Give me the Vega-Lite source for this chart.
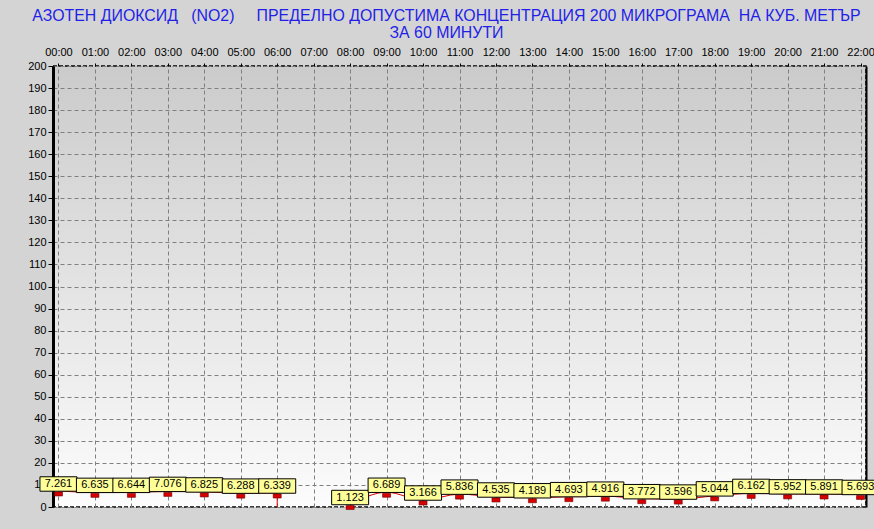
{
  "$schema": "https://vega.github.io/schema/vega-lite/v6.json",
  "width": 813,
  "height": 441,
  "autosize": {"type": "none"},
  "padding": {"left": 53, "top": 66, "right": 8, "bottom": 22},
  "background": "#d4d4d4",
  "config": {
    "font": "Liberation Sans",
    "view": {
      "stroke": "#000000",
      "strokeWidth": 1.5,
      "strokeDash": [4, 2],
      "fill": {"gradient": "linear", "x1": 0, "y1": 0, "x2": 0, "y2": 1, "stops": [{"offset": 0, "color": "#cbcbcb"}, {"offset": 1, "color": "#fcfcfc"}]}
    }
  },
  "title": {
    "text": ["АЗОТЕН ДИОКСИД \u00a0\u00a0(NO2) \u00a0\u00a0\u00a0\u00a0ПРЕДЕЛНО ДОПУСТИМА КОНЦЕНТРАЦИЯ 200 МИКРОГРАМА \u00a0НА КУБ. МЕТЪР", "ЗА 60 МИНУТИ"],
    "font": "Liberation Sans",
    "fontSize": 15.9,
    "fontWeight": "normal",
    "color": "#1f1fe8",
    "anchor": "middle",
    "dx": -13,
    "lineHeight": 17.5,
    "offset": 5
  },
  "data": {
    "values": [
      {"time": "00:00", "value": 7.261},
      {"time": "01:00", "value": 6.635},
      {"time": "02:00", "value": 6.644},
      {"time": "03:00", "value": 7.076},
      {"time": "04:00", "value": 6.825},
      {"time": "05:00", "value": 6.288},
      {"time": "06:00", "value": 6.339},
      {"time": "07:00", "value": null},
      {"time": "08:00", "value": 1.123},
      {"time": "09:00", "value": 6.689},
      {"time": "10:00", "value": 3.166},
      {"time": "11:00", "value": 5.836},
      {"time": "12:00", "value": 4.535},
      {"time": "13:00", "value": 4.189},
      {"time": "14:00", "value": 4.693},
      {"time": "15:00", "value": 4.916},
      {"time": "16:00", "value": 3.772},
      {"time": "17:00", "value": 3.596},
      {"time": "18:00", "value": 5.044},
      {"time": "19:00", "value": 6.162},
      {"time": "20:00", "value": 5.952},
      {"time": "21:00", "value": 5.891},
      {"time": "22:00", "value": 5.693}
    ]
  },
  "encoding": {
    "x": {
      "field": "time",
      "type": "nominal",
      "sort": null,
      "scale": {"type": "point", "padding": 0.15, "domain": ["00:00","01:00","02:00","03:00","04:00","05:00","06:00","07:00","08:00","09:00","10:00","11:00","12:00","13:00","14:00","15:00","16:00","17:00","18:00","19:00","20:00","21:00","22:00"]},
      "axis": {
        "orient": "top",
        "title": null,
        "labelAngle": 0,
        "labelFont": "Liberation Sans",
        "labelFontSize": 11,
        "labelColor": "#000000",
        "labelPadding": 6,
        "ticks": true,
        "tickSize": 3,
        "tickColor": "#000000",
        "domain": false,
        "grid": true,
        "gridColor": "#808080",
        "gridDash": [4, 3],
        "gridWidth": 1,
        "gridOpacity": 1
      }
    }
  },
  "layer": [
    {
      "encoding": {
        "y": {
          "field": "value",
          "type": "quantitative",
          "scale": {"domain": [0, 200], "nice": false, "zero": true},
          "axis": {
            "orient": "left",
            "title": null,
            "values": [0,10,20,30,40,50,60,70,80,90,100,110,120,130,140,150,160,170,180,190,200],
            "labelFont": "Liberation Sans",
            "labelFontSize": 11,
            "labelColor": "#000000",
            "labelPadding": 2,
            "tickSize": 5,
            "tickColor": "#000000",
            "domainColor": "#000000",
            "domainWidth": 3,
            "grid": true,
            "gridColor": "#808080",
            "gridDash": [4, 3],
            "gridWidth": 1,
            "gridOpacity": 1
          }
        }
      },
      "layer": [
        {
          "mark": {"type": "line", "color": "#e00000", "strokeWidth": 1, "interpolate": "monotone", "invalid": "break-paths-filter-domains"}
        },
        {
          "transform": [{"filter": "datum.time == '06:00'"}],
          "mark": {"type": "rule", "color": "#e00000", "strokeWidth": 1, "yOffset": 3},
          "encoding": {"y2": {"datum": 0}}
        },
        {
          "mark": {"type": "point", "shape": "M-1,-0.5H1V0.5H-1Z", "size": 64, "filled": true, "fill": "#d80000", "stroke": "#700000", "strokeWidth": 0.6, "opacity": 1, "yOffset": 3}
        },
        {
          "mark": {"type": "point", "shape": "M-1,-0.39H1V0.39H-1Z", "size": 1369, "filled": true, "fill": "#ffff99", "stroke": "#000000", "strokeWidth": 1, "opacity": 1, "yOffset": -7}
        },
        {
          "mark": {"type": "text", "font": "Liberation Sans", "fontSize": 11, "color": "#000000", "baseline": "middle", "align": "center", "yOffset": -7},
          "encoding": {"text": {"field": "value", "type": "quantitative", "format": ".3f"}}
        }
      ]
    },
    {
      "mark": {"type": "point", "opacity": 0},
      "encoding": {
        "y": {
          "field": "value",
          "type": "quantitative",
          "scale": {"domain": [0, 200], "nice": false, "zero": true},
          "axis": {"orient": "right", "title": null, "labels": false, "ticks": false, "grid": false, "domain": true, "domainColor": "#000000", "domainWidth": 2}
        }
      }
    }
  ],
  "resolve": {"axis": {"y": "independent"}}
}
